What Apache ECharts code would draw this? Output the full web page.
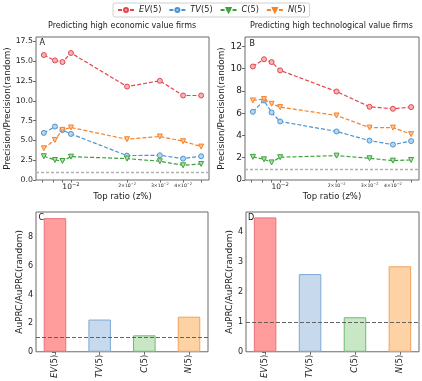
<!DOCTYPE html>
<html><head><meta charset="utf-8">
<script src="https://cdn.jsdelivr.net/npm/echarts@6/dist/echarts.min.js"></script>
<style>html,body{margin:0;padding:0;background:#fff}#c{width:422px;height:381px}</style>
</head><body><div id="c"></div>
<script>
// ---- data ----
const topRatio = [0.00715, 0.0082, 0.009, 0.01, 0.02, 0.03, 0.04, 0.05];
const econEV = [15.78, 15.1, 14.9, 16.04, 11.8, 12.53, 10.67, 10.67];
const econTV = [5.95, 6.75, 6.3, 5.82, 3.08, 3.12, 2.7, 3.0];
const econC  = [3.0, 2.53, 2.4, 2.95, 2.7, 2.37, 1.86, 2.03];
const econN  = [4.0, 5.06, 6.33, 6.63, 5.15, 5.49, 4.9, 4.22];
const techEV = [10.2, 10.85, 10.6, 9.85, 7.95, 6.58, 6.4, 6.55];
const techTV = [6.13, 7.15, 6.07, 5.26, 4.36, 3.54, 3.18, 3.5];
const techC  = [2.08, 1.86, 1.58, 2.05, 2.19, 1.95, 1.74, 1.8];
const techN  = [7.15, 7.27, 6.85, 6.55, 5.8, 4.71, 4.71, 4.12];
const seriesNames = ['EV(5)', 'TV(5)', 'C(5)', 'N(5)'];
const econAuprc = [9.33, 2.25, 1.15, 2.45];
const techAuprc = [4.48, 2.59, 1.15, 2.85];
const xMajorTicks = [0.01, 0.02, 0.03, 0.04];
const xAllTicks = [0.007, 0.008, 0.009, 0.01, 0.02, 0.03, 0.04, 0.05];
const yTicksA = [0, 2.5, 5, 7.5, 10, 12.5, 15, 17.5];
const yTicksB = [0, 2, 4, 6, 8, 10, 12];
const yTicksC = [0, 2, 4, 6, 8];
const yTicksD = [0, 1, 2, 3, 4];
const baseline = 1;

// ---- styles ----
const FONT = 'DejaVu Sans';
const lineColors = ['#e2474e', '#4e93cf', '#3aa23a', '#f7822a'];
const markerFill = ['#f6b3b5', '#b9d5ee', '#b4dfb4', '#fbc69c'];
const barFill = ['#ff9d9d', '#c7d9ec', '#c9e7c5', '#fdd3a6'];
const barEdge = ['#e8707a', '#7ea9d4', '#6cbc6c', '#f2a05e'];
const symbols = ['circle', 'circle', 'triangle', 'triangle'];
const frame = '#6a6a6a';

function richName(n) {
  const m = n.match(/^([A-Z]+)(\(5\))$/);
  return '{i|' + m[1] + '}{n|' + m[2] + '}';
}

const grids = [
  {left: 36, top: 37, width: 173, height: 143},
  {left: 245, top: 37, width: 174, height: 143},
  {left: 36, top: 212, width: 172, height: 142},
  {left: 246, top: 212, width: 173, height: 142}
].map(g => Object.assign(g, {show: true, borderColor: frame, borderWidth: 1, backgroundColor: 'transparent'}));

function logX(gi) {
  return {
    type: 'log', logBase: 10, gridIndex: gi, min: 0.00649, max: 0.0551,
    name: 'Top ratio (z%)', nameLocation: 'middle', nameGap: 11,
    nameTextStyle: {fontFamily: FONT, fontSize: 8.5, color: '#222'},
    axisLine: {show: false}, splitLine: {show: false}, minorTick: {show: false},
    axisTick: {show: true, length: 2.5, lineStyle: {color: frame}, customValues: xAllTicks},
    axisLabel: {
      customValues: xMajorTicks, margin: 2, color: '#222', fontFamily: FONT,
      formatter: function (v) {
        const k = Math.round(v * 100);
        if (k === 1) return '{b|10}{bs|\u22122}';
        return '{m|' + k + '\u00d710}{ms|\u22122}';
      },
      rich: {
        b: {fontSize: 7.5, fontFamily: FONT, color: '#222'},
        bs: {fontSize: 5.2, fontFamily: FONT, color: '#222', padding: [0, 0, 5, 0]},
        m: {fontSize: 4.6, fontFamily: FONT, color: '#222'},
        ms: {fontSize: 3.5, fontFamily: FONT, color: '#222', padding: [0, 0, 3, 0]}
      }
    }
  };
}

function valY(gi, ticks, max, name, gap, fs, fmt, nameFs) {
  return {
    type: 'value', gridIndex: gi, min: 0, max: max,
    name: name, nameLocation: 'middle', nameGap: gap,
    nameTextStyle: {fontFamily: FONT, fontSize: nameFs, color: '#222'},
    axisLine: {show: false}, splitLine: {show: false},
    axisTick: {show: true, length: 3, lineStyle: {color: frame}, customValues: ticks},
    axisLabel: {customValues: ticks, margin: 3, fontSize: fs, fontFamily: FONT, color: '#222', formatter: fmt}
  };
}

function catX(gi) {
  return {
    type: 'value', gridIndex: gi, min: -0.425, max: 3.425,
    axisLine: {show: false}, splitLine: {show: false},
    axisTick: {show: true, length: 3, lineStyle: {color: frame}, customValues: [0, 1, 2, 3]},
    axisLabel: {
      customValues: [0, 1, 2, 3], rotate: 90, margin: 3, fontFamily: FONT, color: '#222',
      formatter: v => richName(seriesNames[Math.round(v)]),
      rich: {i: {fontStyle: 'italic', fontSize: 8.5, fontFamily: FONT, color: '#222'},
             n: {fontSize: 8.5, fontFamily: FONT, color: '#222'}}
    }
  };
}

const series = [];
const panelLines = [[econEV, econTV, econC, econN], [techEV, techTV, techC, techN]];
panelLines.forEach((arrs, pi) => {
  arrs.forEach((vals, si) => {
    const s = {
      type: 'line', name: seriesNames[si], xAxisIndex: pi, yAxisIndex: pi,
      data: topRatio.map((x, i) => [x, vals[i]]),
      symbol: symbols[si], symbolSize: 5, symbolRotate: si >= 2 ? 180 : 0,
      showAllSymbol: true,
      lineStyle: {color: lineColors[si], width: 1.2, type: [4, 2]},
      itemStyle: {color: markerFill[si], borderColor: lineColors[si], borderWidth: 1},
      z: 3 + si, animation: false
    };
    if (si === 0) {
      s.markLine = {silent: true, symbol: 'none', label: {show: false}, animation: false,
        lineStyle: {color: '#b0b0b0', width: 1.4, type: [3, 2]}, data: [{yAxis: baseline}]};
    }
    series.push(s);
  });
});
[econAuprc, techAuprc].forEach((vals, pi) => {
  series.push({
    type: 'bar', xAxisIndex: 2 + pi, yAxisIndex: 2 + pi, barWidth: 22.5,
    data: vals.map((v, i) => ({value: [i, v], itemStyle: {color: barFill[i], borderColor: barEdge[i], borderWidth: 1}})),
    animation: false,
    markLine: {silent: true, symbol: 'none', label: {show: false}, animation: false, z: 10,
      lineStyle: {color: '#555', width: 0.9, type: [4, 2]}, data: [{yAxis: baseline}]}
  });
});

const option = {
  animation: false,
  textStyle: {fontFamily: FONT},
  grid: grids,
  legend: {
    left: 113, top: 3, data: seriesNames, orient: 'horizontal',
    itemWidth: 16, itemHeight: 5, itemGap: 7, padding: [3, 4, 3, 4],
    borderColor: '#d0d0d0', borderWidth: 1, borderRadius: 2,
    formatter: n => richName(n),
    textStyle: {fontFamily: FONT, fontSize: 8.2, color: '#222',
      rich: {i: {fontStyle: 'italic', fontSize: 8.2, fontFamily: FONT, color: '#222'},
             n: {fontSize: 8.2, fontFamily: FONT, color: '#222'}}}
  },
  xAxis: [logX(0), logX(1), catX(2), catX(3)],
  yAxis: [
    valY(0, yTicksA, 18.06, 'Precision/Precision(random)', 18, 7.8, v => v.toFixed(1), 8.8),
    valY(1, yTicksB, 12.85, 'Precision/Precision(random)', 14, 9, v => String(v), 8.8),
    valY(2, yTicksC, 9.76, 'AuPRC/AuPRC(random)', 11, 8, v => String(v), 9),
    valY(3, yTicksD, 4.66, 'AuPRC/AuPRC(random)', 11, 8, v => String(v), 9)
  ],
  graphic: [
    {type: 'text', left: 48, top: 22, style: {text: 'Predicting high economic value firms', fontFamily: FONT, fontSize: 8, fill: '#222'}},
    {type: 'text', left: 250, top: 22, style: {text: 'Predicting high technological value firms', fontFamily: FONT, fontSize: 8, fill: '#222'}},
    {type: 'text', left: 39.5, top: 39, z: 20, style: {text: 'A', fontFamily: FONT, fontSize: 8, fill: '#111'}},
    {type: 'text', left: 249.5, top: 39.5, z: 20, style: {text: 'B', fontFamily: FONT, fontSize: 8, fill: '#111'}},
    {type: 'text', left: 38.5, top: 214, z: 20, style: {text: 'C', fontFamily: FONT, fontSize: 8, fill: '#111'}},
    {type: 'text', left: 248, top: 214, z: 20, style: {text: 'D', fontFamily: FONT, fontSize: 8, fill: '#111'}}
  ],
  series: series
};
const chart = echarts.init(document.getElementById('c'), null, {renderer: 'canvas'});
chart.setOption(option);
</script></body></html>
